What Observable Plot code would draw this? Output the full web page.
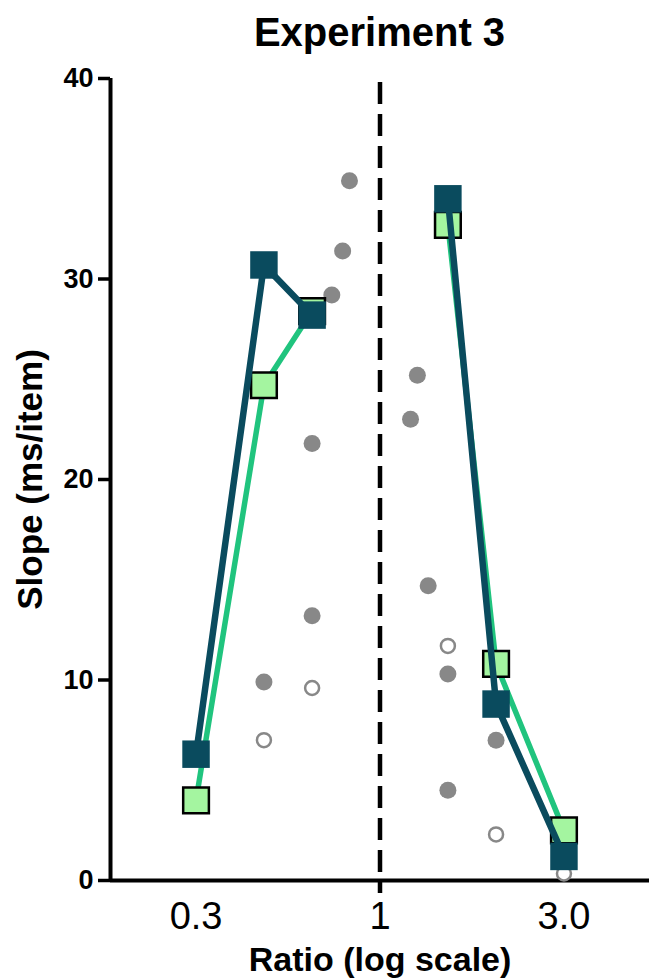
<!DOCTYPE html>
<html>
<head>
<meta charset="utf-8">
<script src="https://cdn.jsdelivr.net/npm/d3@7"></script>
<script src="https://cdn.jsdelivr.net/npm/@observablehq/plot@0.6"></script>
<style>
  html, body { margin: 0; padding: 0; background: #fff; }
  body { width: 649px; height: 979px; overflow: hidden; font-family: "Liberation Sans", Arial, sans-serif; }
  #title { height: 60px; line-height: 64px; text-align: center; font-weight: bold; font-size: 40px; color: #000; padding-left: 110px; box-sizing: border-box; }
  svg { display: block; }
</style>
</head>
<body>
<div id="title">Experiment 3</div>
<div id="chart"></div>
<script>
// Conditions (target/distractor ratio, log scale)
const ratios = [1/3, 1/2, 2/3, 3/2, 2, 3];
const sides = ["left", "left", "left", "right", "right", "right"];
// Mean slopes (ms/item) for the two series
const tealSlope = [6.3, 30.7, 28.2, 34.0, 8.8, 1.2];
const greenSlope = [4.0, 24.7, 28.4, 32.7, 10.8, 2.5];
// Individual gray points (filled)
const filledRatio = [5/6, 4/5, 3/4, 2/3, 2/3, 1/2, 6/5, 5/4, 4/3, 3/2, 3/2, 2];
const filledSlope = [34.9, 31.4, 29.2, 21.8, 13.2, 9.9, 23.0, 25.2, 14.7, 10.3, 4.5, 7.0];
// Individual gray points (open)
const openRatio = [2/3, 1/2, 3/2, 2, 3];
const openSlope = [9.6, 7.0, 11.7, 2.3, 0.35];
// Axis ticks
const xTicks = [1/3, 1, 3];
const xTickLabels = ["0.3", "1", "3.0"];
const yTicks = [0, 10, 20, 30, 40];

const teal = ratios.map((r, i) => ({ratio: r, slope: tealSlope[i], side: sides[i]}));
const green = ratios.map((r, i) => ({ratio: r, slope: greenSlope[i], side: sides[i]}));
const filled = filledRatio.map((r, i) => ({ratio: r, slope: filledSlope[i]}));
const open = openRatio.map((r, i) => ({ratio: r, slope: openSlope[i]}));
const xTickData = xTicks.map((t, i) => ({ratio: t, label: xTickLabels[i]}));

const TEAL = "#0a4b5e";
const GREEN_LINE = "#20c47e";
const GREEN_FILL = "#a4f5a0";
const GRAY = "#888888";
const FONT = "'Liberation Sans', Arial, sans-serif";

const chart = Plot.plot({
  width: 649,
  height: 919,
  marginTop: 18,
  marginLeft: 110,
  marginRight: 0,
  marginBottom: 99,
  style: {fontFamily: FONT, color: "#000", background: "#fff", overflow: "visible"},
  x: {type: "log", domain: [0.2, 5], axis: null},
  y: {domain: [0, 40], axis: null},
  marks: [
    // axis lines
    Plot.ruleX([0.2], {y1: 0, y2: 40, stroke: "#000", strokeWidth: 4}),
    Plot.ruleY([0], {stroke: "#000", strokeWidth: 4}),
    Plot.axisY({ticks: yTicks, tickSize: 12, tickPadding: 5, strokeWidth: 3.5, fontSize: 27, fontWeight: "bold", label: null}),
    Plot.text(xTickData, {x: "ratio", text: "label", frameAnchor: "bottom", dy: 36, lineAnchor: "middle", fontSize: 38, fill: "#000"}),
    // dashed reference at ratio 1
    Plot.ruleX([1], {y1: 39.8, y2: -0.65, stroke: "#000", strokeWidth: 4.5, strokeDasharray: "22,10"}),
    // individual data
    Plot.dot(filled, {x: "ratio", y: "slope", r: 8.5, fill: GRAY, stroke: "none"}),
    Plot.dot(open, {x: "ratio", y: "slope", r: 7, fill: "#fff", stroke: GRAY, strokeWidth: 2.5}),
    // green series
    Plot.line(green, {x: "ratio", y: "slope", z: "side", stroke: GREEN_LINE, strokeWidth: 5.5}),
    Plot.dot(green, {x: "ratio", y: "slope", symbol: "square", r: 14.5, fill: GREEN_FILL, stroke: "#000", strokeWidth: 2.5}),
    // teal series
    Plot.line(teal, {x: "ratio", y: "slope", z: "side", stroke: TEAL, strokeWidth: 6.5}),
    Plot.dot(teal, {x: "ratio", y: "slope", symbol: "square", r: 15.5, fill: TEAL, stroke: "none"}),
    // axis titles
    Plot.text(["Slope (ms/item)"], {frameAnchor: "left", textAnchor: "middle", lineAnchor: "middle", rotate: -90, dx: -80, fontSize: 35, fontWeight: "bold", fill: "#000"}),
    Plot.text(["Ratio (log scale)"], {frameAnchor: "bottom", dy: 80, lineAnchor: "middle", fontSize: 34, fontWeight: "bold", fill: "#000"})
  ]
});
document.getElementById("chart").appendChild(chart);
</script>
</body>
</html>
